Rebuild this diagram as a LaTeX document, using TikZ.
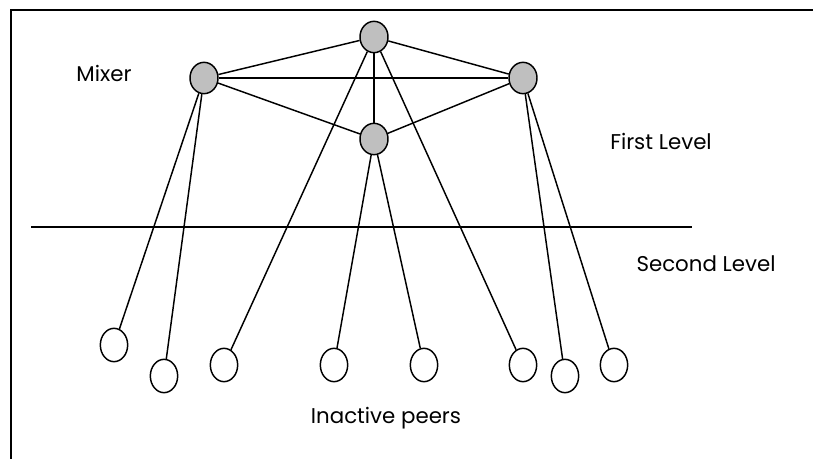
\documentclass[tikz,border=0pt]{standalone}
\usepackage{fontspec}
\setmainfont{Poppins}
\usepackage{tikz}
\usetikzlibrary{positioning, shapes.geometric}

\begin{document}
\begin{tikzpicture}[x=0.75pt, y=-0.75pt,
  mixer/.style={draw, line width=1.1pt, ellipse, fill=black!25, minimum width=21pt, minimum height=23.5pt, inner sep=0pt},
  peer/.style={draw, line width=1.1pt, ellipse, fill=white, minimum width=20.5pt, minimum height=25pt, inner sep=0pt},
  link/.style={line width=1.1pt},
  lbl/.style={font=\fontsize{16}{19}\selectfont, inner sep=0pt}]
\useasboundingbox (0, 0) rectangle (813, 459);
\draw [line width=1.5pt] (11, 459) -- (11, 10) -- (813, 10);
\draw [link] (31, 227) -- (692, 227);
% first level
\node [mixer] (mixT) at (374, 37) {};
\node [mixer] (mixL) at (204, 78) {};
\node [mixer] (mixR) at (523, 78) {};
\node [mixer] (mixM) at (374, 139) {};
% second level
\foreach \n/\x/\y in {1/114/345, 2/164/376, 3/224/365, 4/334/365, 5/424/365, 6/523/365, 7/565/376, 8/614/365}
  \node [peer] (p\n) at (\x, \y) {};
\foreach \a/\b in {mixT/mixL, mixT/mixR, mixL/mixR, mixL/mixM, mixR/mixM, mixT/mixM}
  \draw [link] (\a) -- (\b);
\foreach \a/\b in {mixL/p1, mixL/p2, mixT/p3, mixT/p6, mixM/p4, mixM/p5, mixR/p7, mixR/p8}
  \draw [link] (\a) -- (\b);
\node [lbl] (mixer) at (104, 73) {Mixer};
\node [lbl] (first) at (661, 141) {First Level};
\node [lbl] (second) at (706, 264) {Second Level};
\node [lbl] (inactive) at (386, 418) {Inactive peers};
\end{tikzpicture}
\end{document}
